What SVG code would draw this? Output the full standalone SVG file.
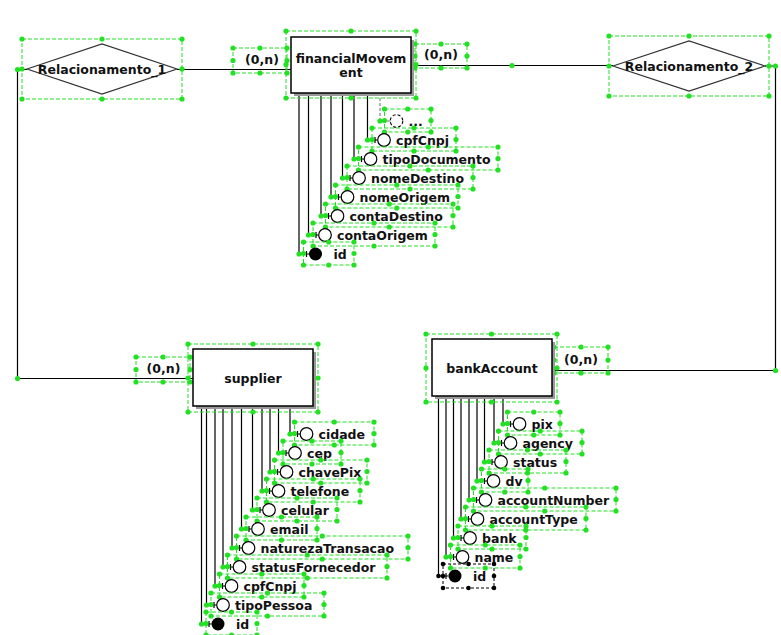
<svg xmlns="http://www.w3.org/2000/svg" width="781" height="635" viewBox="0 0 781 635">
<style>
.s{fill:none;stroke:#22e022;stroke-width:1;stroke-dasharray:4 2}
.sk{fill:none;stroke:#000;stroke-width:1;stroke-dasharray:3 2}
.c{fill:none;stroke:#000;stroke-width:1.2}
.cd{fill:none;stroke:#777;stroke-width:1.1;stroke-dasharray:3 2}
.a{fill:#fff;stroke:#000;stroke-width:1.2}
.ad{fill:#fff;stroke:#000;stroke-width:1.1;stroke-dasharray:3 2}
.pk{fill:#000}
.e{fill:#fff;stroke:#000;stroke-width:1.5}
.sh{fill:#999}
.r{fill:#fff;stroke:#333;stroke-width:1.2}
.t{font-family:"DejaVu Sans","Liberation Sans",sans-serif;font-weight:bold;font-size:12.5px;fill:#111}
.m{text-anchor:middle}
</style>
<defs>
<circle id="g" r="2.6" fill="#22e022"/>
<circle id="k" r="2.3" fill="#000"/>
</defs>
<rect width="781" height="635" fill="#fff"/>

<g id="connectors">
<path class="c" d="M177 69.5H291"/>
<path class="c" d="M27 69.5H17.5V378.5H193"/>
<path class="c" d="M411 65.5H613"/>
<path class="c" d="M765 66H775.5V370.5H552"/>
<!-- financialMovement attributes -->
<path class="cd" d="M380 93V121H390"/>
<path class="c" d="M367.5 93V140H377.5M375 137V143"/>
<path class="c" d="M354 93V159H364M361.5 156V162"/>
<path class="c" d="M342.5 93V178H352.5M350 175V181"/>
<path class="c" d="M331 93V197H341M338.5 194V200"/>
<path class="c" d="M321 93V216H331M328.5 213V219"/>
<path class="c" d="M308.5 93V235H318.5M316 232V238"/>
<path class="c" d="M299 93V254H309M306.5 251V257"/>
<!-- supplier attributes -->
<path class="c" d="M290 406V434H300M297.5 431V437"/>
<path class="c" d="M278.5 406V453H288.5M286 450V456"/>
<path class="c" d="M270 406V472H280M277.5 469V475"/>
<path class="c" d="M262 406V491H272M269.5 488V494"/>
<path class="c" d="M252.5 406V510H262.5M260 507V513"/>
<path class="c" d="M241.5 406V529H251.5M249 526V532"/>
<path class="c" d="M232 406V548H242M239.5 545V551"/>
<path class="c" d="M223 406V567H233M230.5 564V570"/>
<path class="c" d="M215 406V586H225M222.5 583V589"/>
<path class="c" d="M206.5 406V605H216.5M214 602V608"/>
<path class="c" d="M201.5 406V624H211.5M209 621V627"/>
<!-- bankAccount attributes -->
<path class="c" d="M503 396V424H513M510.5 421V427"/>
<path class="c" d="M494 396V443H504M501.5 440V446"/>
<path class="c" d="M484.5 396V462H494.5M492 459V465"/>
<path class="c" d="M477 396V481H487M484.5 478V484"/>
<path class="c" d="M469 396V500H479M476.5 497V503"/>
<path class="c" d="M461 396V519H471M468.5 516V522"/>
<path class="c" d="M453.5 396V538H463.5M461 535V541"/>
<path class="c" d="M446 396V557H456M453.5 554V560"/>
<path class="c" d="M438.5 396V576H448.5M446 573V579"/>
<!-- connector handles -->
<use href="#g" x="17.5" y="69.5"/><use href="#g" x="17.5" y="378.5"/>
<use href="#g" x="512" y="65.5"/><use href="#g" x="775.5" y="66"/><use href="#g" x="775.5" y="370.5"/>
<use href="#g" x="380" y="93"/><use href="#g" x="367.5" y="93"/><use href="#g" x="354" y="93"/><use href="#g" x="342.5" y="93"/><use href="#g" x="331" y="93"/><use href="#g" x="321" y="93"/><use href="#g" x="308.5" y="93"/><use href="#g" x="299" y="93"/>
<use href="#g" x="380" y="121"/><use href="#g" x="367.5" y="140"/><use href="#g" x="354" y="159"/><use href="#g" x="342.5" y="178"/><use href="#g" x="331" y="197"/><use href="#g" x="321" y="216"/><use href="#g" x="308.5" y="235"/><use href="#g" x="299" y="254"/>
<use href="#g" x="290" y="406"/><use href="#g" x="278.5" y="406"/><use href="#g" x="270" y="406"/><use href="#g" x="262" y="406"/><use href="#g" x="252.5" y="406"/><use href="#g" x="241.5" y="406"/><use href="#g" x="232" y="406"/><use href="#g" x="223" y="406"/><use href="#g" x="215" y="406"/><use href="#g" x="206.5" y="406"/><use href="#g" x="201.5" y="406"/>
<use href="#g" x="290" y="434"/><use href="#g" x="278.5" y="453"/><use href="#g" x="270" y="472"/><use href="#g" x="262" y="491"/><use href="#g" x="252.5" y="510"/><use href="#g" x="241.5" y="529"/><use href="#g" x="232" y="548"/><use href="#g" x="223" y="567"/><use href="#g" x="215" y="586"/><use href="#g" x="206.5" y="605"/><use href="#g" x="201.5" y="624"/>
<use href="#g" x="503" y="396"/><use href="#g" x="494" y="396"/><use href="#g" x="484.5" y="396"/><use href="#g" x="477" y="396"/><use href="#g" x="469" y="396"/><use href="#g" x="461" y="396"/><use href="#g" x="453.5" y="396"/><use href="#g" x="446" y="396"/><use href="#g" x="438.5" y="396"/>
<use href="#g" x="503" y="424"/><use href="#g" x="494" y="443"/><use href="#g" x="484.5" y="462"/><use href="#g" x="477" y="481"/><use href="#g" x="469" y="500"/><use href="#g" x="461" y="519"/><use href="#g" x="453.5" y="538"/><use href="#g" x="446" y="557"/><use href="#k" x="438.5" y="576"/>
</g>

<!-- cardinality labels -->
<g id="card-r1-fm">
<rect class="s" x="233" y="48" width="54" height="25"/>
<text class="t m" x="262" y="64">(0,n)</text>
<use href="#g" x="233" y="48"/><use href="#g" x="260" y="48"/><use href="#g" x="287" y="48"/><use href="#g" x="233" y="60.5"/><use href="#g" x="287" y="60.5"/><use href="#g" x="233" y="73"/><use href="#g" x="260" y="73"/><use href="#g" x="287" y="73"/>
</g>
<g id="card-fm-r2">
<rect class="s" x="415" y="44" width="52" height="24"/>
<text class="t m" x="441" y="59">(0,n)</text>
<use href="#g" x="415" y="44"/><use href="#g" x="441" y="44"/><use href="#g" x="467" y="44"/><use href="#g" x="415" y="56"/><use href="#g" x="467" y="56"/><use href="#g" x="415" y="68"/><use href="#g" x="441" y="68"/><use href="#g" x="467" y="68"/>
</g>
<g id="card-r1-sup">
<rect class="s" x="136" y="357" width="54" height="25"/>
<text class="t m" x="163.5" y="373">(0,n)</text>
<use href="#g" x="136" y="357"/><use href="#g" x="163" y="357"/><use href="#g" x="190" y="357"/><use href="#g" x="136" y="369.5"/><use href="#g" x="190" y="369.5"/><use href="#g" x="136" y="382"/><use href="#g" x="163" y="382"/><use href="#g" x="190" y="382"/>
</g>
<g id="card-r2-ba">
<rect class="s" x="554" y="347" width="54" height="26"/>
<text class="t m" x="581" y="364">(0,n)</text>
<use href="#g" x="554" y="347"/><use href="#g" x="581" y="347"/><use href="#g" x="608" y="347"/><use href="#g" x="554" y="360"/><use href="#g" x="608" y="360"/><use href="#g" x="554" y="373"/><use href="#g" x="581" y="373"/><use href="#g" x="608" y="373"/>
</g>

<!-- relationships -->
<g id="Relacionamento_1">
<polygon class="r" points="27,69 102,44 177,69 102,94"/>
<text class="t m" x="102" y="73.5">Relacionamento_1</text>
<rect class="s" x="22" y="39" width="160" height="60"/>
<use href="#g" x="22" y="39"/><use href="#g" x="102" y="39"/><use href="#g" x="182" y="39"/><use href="#g" x="22" y="69"/><use href="#g" x="182" y="69"/><use href="#g" x="22" y="99"/><use href="#g" x="102" y="99"/><use href="#g" x="182" y="99"/>
</g>
<g id="Relacionamento_2">
<polygon class="r" points="613,66 689,41 765,66 689,91"/>
<text class="t m" x="689" y="70.5">Relacionamento_2</text>
<rect class="s" x="609" y="36" width="160" height="60"/>
<use href="#g" x="609" y="36"/><use href="#g" x="689" y="36"/><use href="#g" x="769" y="36"/><use href="#g" x="609" y="66"/><use href="#g" x="769" y="66"/><use href="#g" x="609" y="96"/><use href="#g" x="689" y="96"/><use href="#g" x="769" y="96"/>
</g>

<!-- entities -->
<g id="financialMovement">
<rect class="sh" x="294" y="40" width="120" height="56"/>
<rect class="e" x="291" y="37" width="120" height="56"/>
<text class="t m" x="351" y="63">financialMovem</text>
<text class="t m" x="351" y="77">ent</text>
<rect class="s" x="286" y="31" width="130" height="67"/>
<use href="#g" x="286" y="31"/><use href="#g" x="351" y="31"/><use href="#g" x="416" y="31"/><use href="#g" x="286" y="64.5"/><use href="#g" x="416" y="64.5"/><use href="#g" x="286" y="98"/><use href="#g" x="351" y="98"/><use href="#g" x="416" y="98"/>
</g>
<g id="supplier">
<rect class="sh" x="196" y="352" width="120" height="57"/>
<rect class="e" x="193" y="349" width="120" height="57"/>
<text class="t m" x="253" y="383">supplier</text>
<rect class="s" x="188" y="344" width="130" height="68"/>
<use href="#g" x="188" y="344"/><use href="#g" x="253" y="344"/><use href="#g" x="318" y="344"/><use href="#g" x="188" y="378"/><use href="#g" x="318" y="378"/><use href="#g" x="188" y="412"/><use href="#g" x="253" y="412"/><use href="#g" x="318" y="412"/>
</g>
<g id="bankAccount">
<rect class="sh" x="435" y="342" width="120" height="57"/>
<rect class="e" x="432" y="339" width="120" height="57"/>
<text class="t m" x="492" y="373">bankAccount</text>
<rect class="s" x="426" y="334" width="131" height="68"/>
<use href="#g" x="426" y="334"/><use href="#g" x="491.5" y="334"/><use href="#g" x="557" y="334"/><use href="#g" x="426" y="368"/><use href="#g" x="557" y="368"/><use href="#g" x="426" y="402"/><use href="#g" x="491.5" y="402"/><use href="#g" x="557" y="402"/>
</g>

<!-- financialMovement attributes -->
<g id="fm-more">
<circle class="ad" cx="396.5" cy="121" r="6.3"/>
<text class="t" x="408.5" y="125.5">...</text>
<rect class="s" x="384.5" y="109" width="46.5" height="23"/>
<use href="#g" x="384.5" y="109"/><use href="#g" x="407.75" y="109"/><use href="#g" x="431" y="109"/><use href="#g" x="384.5" y="120.5"/><use href="#g" x="431" y="120.5"/><use href="#g" x="384.5" y="132"/><use href="#g" x="407.75" y="132"/><use href="#g" x="431" y="132"/>
</g>
<g id="fm-cpfCnpj">
<circle class="a" cx="384" cy="140" r="6.3"/>
<text class="t" x="396" y="144.5">cpfCnpj</text>
<rect class="s" x="372" y="128" width="84" height="23"/>
<use href="#g" x="372" y="128"/><use href="#g" x="414" y="128"/><use href="#g" x="456" y="128"/><use href="#g" x="372" y="139.5"/><use href="#g" x="456" y="139.5"/><use href="#g" x="372" y="151"/><use href="#g" x="414" y="151"/><use href="#g" x="456" y="151"/>
</g>
<g id="fm-tipoDocumento">
<circle class="a" cx="370.5" cy="159" r="6.3"/>
<text class="t" x="382.5" y="163.5">tipoDocumento</text>
<rect class="s" x="358.5" y="147" width="139.5" height="23"/>
<use href="#g" x="358.5" y="147"/><use href="#g" x="428.25" y="147"/><use href="#g" x="498" y="147"/><use href="#g" x="358.5" y="158.5"/><use href="#g" x="498" y="158.5"/><use href="#g" x="358.5" y="170"/><use href="#g" x="428.25" y="170"/><use href="#g" x="498" y="170"/>
</g>
<g id="fm-nomeDestino">
<circle class="a" cx="359" cy="178" r="6.3"/>
<text class="t" x="371" y="182.5">nomeDestino</text>
<rect class="s" x="347" y="166" width="126" height="23"/>
<use href="#g" x="347" y="166"/><use href="#g" x="410" y="166"/><use href="#g" x="473" y="166"/><use href="#g" x="347" y="177.5"/><use href="#g" x="473" y="177.5"/><use href="#g" x="347" y="189"/><use href="#g" x="410" y="189"/><use href="#g" x="473" y="189"/>
</g>
<g id="fm-nomeOrigem">
<circle class="a" cx="347.5" cy="197" r="6.3"/>
<text class="t" x="359.5" y="201.5">nomeOrigem</text>
<rect class="s" x="335.5" y="185" width="122.5" height="23"/>
<use href="#g" x="335.5" y="185"/><use href="#g" x="396.75" y="185"/><use href="#g" x="458" y="185"/><use href="#g" x="335.5" y="196.5"/><use href="#g" x="458" y="196.5"/><use href="#g" x="335.5" y="208"/><use href="#g" x="396.75" y="208"/><use href="#g" x="458" y="208"/>
</g>
<g id="fm-contaDestino">
<circle class="a" cx="337.5" cy="216" r="6.3"/>
<text class="t" x="349.5" y="220.5">contaDestino</text>
<rect class="s" x="325.5" y="204" width="127.5" height="23"/>
<use href="#g" x="325.5" y="204"/><use href="#g" x="389.25" y="204"/><use href="#g" x="453" y="204"/><use href="#g" x="325.5" y="215.5"/><use href="#g" x="453" y="215.5"/><use href="#g" x="325.5" y="227"/><use href="#g" x="389.25" y="227"/><use href="#g" x="453" y="227"/>
</g>
<g id="fm-contaOrigem">
<circle class="a" cx="325" cy="235" r="6.3"/>
<text class="t" x="337" y="239.5">contaOrigem</text>
<rect class="s" x="313" y="223" width="122" height="23"/>
<use href="#g" x="313" y="223"/><use href="#g" x="374" y="223"/><use href="#g" x="435" y="223"/><use href="#g" x="313" y="234.5"/><use href="#g" x="435" y="234.5"/><use href="#g" x="313" y="246"/><use href="#g" x="374" y="246"/><use href="#g" x="435" y="246"/>
</g>
<g id="fm-id">
<circle class="pk" cx="315.5" cy="254" r="6.5"/>
<text class="t" x="333.5" y="258.5">id</text>
<rect class="s" x="303.5" y="242" width="50.5" height="23"/>
<use href="#g" x="303.5" y="242"/><use href="#g" x="328.75" y="242"/><use href="#g" x="354" y="242"/><use href="#g" x="303.5" y="253.5"/><use href="#g" x="354" y="253.5"/><use href="#g" x="303.5" y="265"/><use href="#g" x="328.75" y="265"/><use href="#g" x="354" y="265"/>
</g>

<!-- supplier attributes -->
<g id="sup-cidade">
<circle class="a" cx="306.5" cy="434" r="6.3"/>
<text class="t" x="318.5" y="438.5">cidade</text>
<rect class="s" x="294.5" y="422" width="79.5" height="23"/>
<use href="#g" x="294.5" y="422"/><use href="#g" x="334.25" y="422"/><use href="#g" x="374" y="422"/><use href="#g" x="294.5" y="433.5"/><use href="#g" x="374" y="433.5"/><use href="#g" x="294.5" y="445"/><use href="#g" x="334.25" y="445"/><use href="#g" x="374" y="445"/>
</g>
<g id="sup-cep">
<circle class="a" cx="295" cy="453" r="6.3"/>
<text class="t" x="307" y="457.5">cep</text>
<rect class="s" x="283" y="441" width="58" height="23"/>
<use href="#g" x="283" y="441"/><use href="#g" x="312" y="441"/><use href="#g" x="341" y="441"/><use href="#g" x="283" y="452.5"/><use href="#g" x="341" y="452.5"/><use href="#g" x="283" y="464"/><use href="#g" x="312" y="464"/><use href="#g" x="341" y="464"/>
</g>
<g id="sup-chavePix">
<circle class="a" cx="286.5" cy="472" r="6.3"/>
<text class="t" x="298.5" y="476.5">chavePix</text>
<rect class="s" x="274.5" y="460" width="92.5" height="23"/>
<use href="#g" x="274.5" y="460"/><use href="#g" x="320.75" y="460"/><use href="#g" x="367" y="460"/><use href="#g" x="274.5" y="471.5"/><use href="#g" x="367" y="471.5"/><use href="#g" x="274.5" y="483"/><use href="#g" x="320.75" y="483"/><use href="#g" x="367" y="483"/>
</g>
<g id="sup-telefone">
<circle class="a" cx="278.5" cy="491" r="6.3"/>
<text class="t" x="290.5" y="495.5">telefone</text>
<rect class="s" x="266.5" y="479" width="93.5" height="23"/>
<use href="#g" x="266.5" y="479"/><use href="#g" x="313.25" y="479"/><use href="#g" x="360" y="479"/><use href="#g" x="266.5" y="490.5"/><use href="#g" x="360" y="490.5"/><use href="#g" x="266.5" y="502"/><use href="#g" x="313.25" y="502"/><use href="#g" x="360" y="502"/>
</g>
<g id="sup-celular">
<circle class="a" cx="269" cy="510" r="6.3"/>
<text class="t" x="281" y="514.5">celular</text>
<rect class="s" x="257" y="498" width="80" height="23"/>
<use href="#g" x="257" y="498"/><use href="#g" x="297" y="498"/><use href="#g" x="337" y="498"/><use href="#g" x="257" y="509.5"/><use href="#g" x="337" y="509.5"/><use href="#g" x="257" y="521"/><use href="#g" x="297" y="521"/><use href="#g" x="337" y="521"/>
</g>
<g id="sup-email">
<circle class="a" cx="258" cy="529" r="6.3"/>
<text class="t" x="270" y="533.5">email</text>
<rect class="s" x="246" y="517" width="71" height="23"/>
<use href="#g" x="246" y="517"/><use href="#g" x="281.5" y="517"/><use href="#g" x="317" y="517"/><use href="#g" x="246" y="528.5"/><use href="#g" x="317" y="528.5"/><use href="#g" x="246" y="540"/><use href="#g" x="281.5" y="540"/><use href="#g" x="317" y="540"/>
</g>
<g id="sup-naturezaTransacao">
<circle class="a" cx="248.5" cy="548" r="6.3"/>
<text class="t" x="260.5" y="552.5">naturezaTransacao</text>
<rect class="s" x="236.5" y="536" width="171.5" height="23"/>
<use href="#g" x="236.5" y="536"/><use href="#g" x="322.25" y="536"/><use href="#g" x="408" y="536"/><use href="#g" x="236.5" y="547.5"/><use href="#g" x="408" y="547.5"/><use href="#g" x="236.5" y="559"/><use href="#g" x="322.25" y="559"/><use href="#g" x="408" y="559"/>
</g>
<g id="sup-statusFornecedor">
<circle class="a" cx="239.5" cy="567" r="6.3"/>
<text class="t" x="251.5" y="571.5">statusFornecedor</text>
<rect class="s" x="227.5" y="555" width="159.5" height="23"/>
<use href="#g" x="227.5" y="555"/><use href="#g" x="307.25" y="555"/><use href="#g" x="387" y="555"/><use href="#g" x="227.5" y="566.5"/><use href="#g" x="387" y="566.5"/><use href="#g" x="227.5" y="578"/><use href="#g" x="307.25" y="578"/><use href="#g" x="387" y="578"/>
</g>
<g id="sup-cpfCnpj">
<circle class="a" cx="231.5" cy="586" r="6.3"/>
<text class="t" x="243.5" y="590.5">cpfCnpj</text>
<rect class="s" x="219.5" y="574" width="84.5" height="23"/>
<use href="#g" x="219.5" y="574"/><use href="#g" x="261.75" y="574"/><use href="#g" x="304" y="574"/><use href="#g" x="219.5" y="585.5"/><use href="#g" x="304" y="585.5"/><use href="#g" x="219.5" y="597"/><use href="#g" x="261.75" y="597"/><use href="#g" x="304" y="597"/>
</g>
<g id="sup-tipoPessoa">
<circle class="a" cx="223" cy="605" r="6.3"/>
<text class="t" x="235" y="609.5">tipoPessoa</text>
<rect class="s" x="211" y="593" width="113" height="23"/>
<use href="#g" x="211" y="593"/><use href="#g" x="267.5" y="593"/><use href="#g" x="324" y="593"/><use href="#g" x="211" y="604.5"/><use href="#g" x="324" y="604.5"/><use href="#g" x="211" y="616"/><use href="#g" x="267.5" y="616"/><use href="#g" x="324" y="616"/>
</g>
<g id="sup-id">
<circle class="pk" cx="218" cy="624" r="6.5"/>
<text class="t" x="236" y="628.5">id</text>
<rect class="s" x="206" y="612" width="51" height="23"/>
<use href="#g" x="206" y="612"/><use href="#g" x="231.5" y="612"/><use href="#g" x="257" y="612"/><use href="#g" x="206" y="623.5"/><use href="#g" x="257" y="623.5"/><use href="#g" x="206" y="635"/><use href="#g" x="231.5" y="635"/><use href="#g" x="257" y="635"/>
</g>

<!-- bankAccount attributes -->
<g id="ba-pix">
<circle class="a" cx="519.5" cy="424" r="6.3"/>
<text class="t" x="531.5" y="428.5">pix</text>
<rect class="s" x="507.5" y="412" width="52.5" height="23"/>
<use href="#g" x="507.5" y="412"/><use href="#g" x="533.75" y="412"/><use href="#g" x="560" y="412"/><use href="#g" x="507.5" y="423.5"/><use href="#g" x="560" y="423.5"/><use href="#g" x="507.5" y="435"/><use href="#g" x="533.75" y="435"/><use href="#g" x="560" y="435"/>
</g>
<g id="ba-agency">
<circle class="a" cx="510.5" cy="443" r="6.3"/>
<text class="t" x="522.5" y="447.5">agency</text>
<rect class="s" x="498.5" y="431" width="83.5" height="23"/>
<use href="#g" x="498.5" y="431"/><use href="#g" x="540.25" y="431"/><use href="#g" x="582" y="431"/><use href="#g" x="498.5" y="442.5"/><use href="#g" x="582" y="442.5"/><use href="#g" x="498.5" y="454"/><use href="#g" x="540.25" y="454"/><use href="#g" x="582" y="454"/>
</g>
<g id="ba-status">
<circle class="a" cx="501" cy="462" r="6.3"/>
<text class="t" x="513" y="466.5">status</text>
<rect class="s" x="489" y="450" width="77" height="23"/>
<use href="#g" x="489" y="450"/><use href="#g" x="527.5" y="450"/><use href="#g" x="566" y="450"/><use href="#g" x="489" y="461.5"/><use href="#g" x="566" y="461.5"/><use href="#g" x="489" y="473"/><use href="#g" x="527.5" y="473"/><use href="#g" x="566" y="473"/>
</g>
<g id="ba-dv">
<circle class="a" cx="493.5" cy="481" r="6.3"/>
<text class="t" x="505.5" y="485.5">dv</text>
<rect class="s" x="481.5" y="469" width="46.5" height="23"/>
<use href="#g" x="481.5" y="469"/><use href="#g" x="504.75" y="469"/><use href="#g" x="528" y="469"/><use href="#g" x="481.5" y="480.5"/><use href="#g" x="528" y="480.5"/><use href="#g" x="481.5" y="492"/><use href="#g" x="504.75" y="492"/><use href="#g" x="528" y="492"/>
</g>
<g id="ba-accountNumber">
<circle class="a" cx="485.5" cy="500" r="6.3"/>
<text class="t" x="497.5" y="504.5">accountNumber</text>
<rect class="s" x="473.5" y="488" width="142.5" height="23"/>
<use href="#g" x="473.5" y="488"/><use href="#g" x="544.75" y="488"/><use href="#g" x="616" y="488"/><use href="#g" x="473.5" y="499.5"/><use href="#g" x="616" y="499.5"/><use href="#g" x="473.5" y="511"/><use href="#g" x="544.75" y="511"/><use href="#g" x="616" y="511"/>
</g>
<g id="ba-accountType">
<circle class="a" cx="477.5" cy="519" r="6.3"/>
<text class="t" x="489.5" y="523.5">accountType</text>
<rect class="s" x="465.5" y="507" width="120.5" height="23"/>
<use href="#g" x="465.5" y="507"/><use href="#g" x="525.75" y="507"/><use href="#g" x="586" y="507"/><use href="#g" x="465.5" y="518.5"/><use href="#g" x="586" y="518.5"/><use href="#g" x="465.5" y="530"/><use href="#g" x="525.75" y="530"/><use href="#g" x="586" y="530"/>
</g>
<g id="ba-bank">
<circle class="a" cx="470" cy="538" r="6.3"/>
<text class="t" x="482" y="542.5">bank</text>
<rect class="s" x="458" y="526" width="68" height="23"/>
<use href="#g" x="458" y="526"/><use href="#g" x="492" y="526"/><use href="#g" x="526" y="526"/><use href="#g" x="458" y="537.5"/><use href="#g" x="526" y="537.5"/><use href="#g" x="458" y="549"/><use href="#g" x="492" y="549"/><use href="#g" x="526" y="549"/>
</g>
<g id="ba-name">
<circle class="a" cx="462.5" cy="557" r="6.3"/>
<text class="t" x="474.5" y="561.5">name</text>
<rect class="s" x="450.5" y="545" width="69.5" height="23"/>
<use href="#g" x="450.5" y="545"/><use href="#g" x="485.25" y="545"/><use href="#g" x="520" y="545"/><use href="#g" x="450.5" y="556.5"/><use href="#g" x="520" y="556.5"/><use href="#g" x="450.5" y="568"/><use href="#g" x="485.25" y="568"/><use href="#g" x="520" y="568"/>
</g>
<g id="ba-id">
<circle class="pk" cx="455" cy="576" r="6.5"/>
<text class="t" x="473" y="580.5">id</text>
<rect class="sk" x="443" y="564" width="51" height="24"/>
<use href="#k" x="443" y="564"/><use href="#k" x="468.5" y="564"/><use href="#k" x="494" y="564"/><use href="#k" x="443" y="576"/><use href="#k" x="494" y="576"/><use href="#k" x="443" y="588"/><use href="#k" x="468.5" y="588"/><use href="#k" x="494" y="588"/>
</g>
</svg>
